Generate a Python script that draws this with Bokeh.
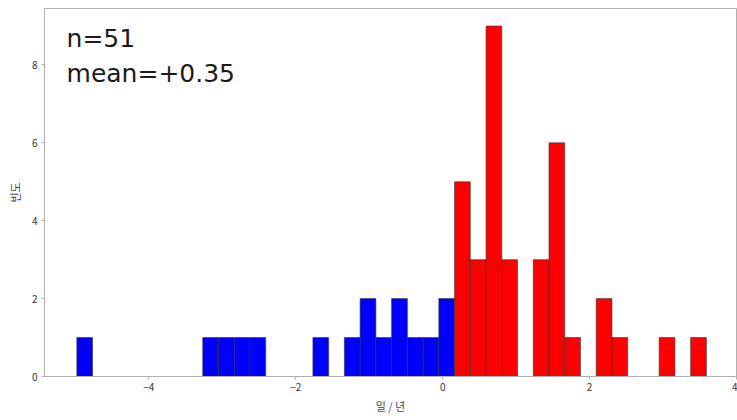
import numpy as np
from bokeh.plotting import figure
from bokeh.models import ColumnDataSource, Range1d, FixedTicker, Label
from bokeh.embed import file_html
from bokeh.resources import INLINE

# ---- data ----
bin_start = -4.98
bin_width = 0.21425
counts = [1, 0, 0, 0, 0, 0, 0, 0, 1, 1,
          1, 1, 0, 0, 0, 1, 0, 1, 2, 1,
          2, 1, 1, 2, 5, 3, 9, 3, 0, 3,
          6, 1, 0, 2, 1, 0, 0, 1, 0, 1]
x_ticks = [-4, -2, 0, 2, 4]
y_ticks = [0, 2, 4, 6, 8]
x_label = "일 / 년"
y_label = "빈도"
n_text = "n=51"
mean_text = "mean=+0.35"

lefts = [bin_start + i * bin_width for i in range(len(counts))]
rights = [l + bin_width for l in lefts]
colors = ["#0000ff" if l < 0 else "#ff0000" for l in lefts]
src = ColumnDataSource(dict(left=lefts, right=rights, top=counts,
                            bottom=[0] * len(counts), color=colors))

p = figure(width=737, height=420, output_backend="svg", toolbar_location=None,
           x_range=Range1d(-5.42, 4.0), y_range=Range1d(0, 9.45),
           min_border_left=44, min_border_bottom=44, min_border_top=8,
           min_border_right=1)
p.quad(left="left", right="right", top="top", bottom="bottom", source=src,
       fill_color="color", line_color="#333333", line_width=0.6)

p.xgrid.visible = False
p.ygrid.visible = False
p.outline_line_color = "#b0b0b0"
p.outline_line_width = 1

for ax in (p.xaxis, p.yaxis):
    ax.axis_line_color = "#b0b0b0"
    ax.major_tick_line_color = "#b0b0b0"
    ax.minor_tick_line_color = None
    ax.major_tick_out = 3
    ax.major_tick_in = 0
    ax.major_label_text_font = "Noto Sans CJK KR"
    ax.major_label_text_font_size = "10px"
    ax.major_label_text_color = "#333333"
    ax.axis_label_text_font = "Noto Sans CJK KR"
    ax.axis_label_text_font_size = "11px"
    ax.axis_label_text_font_style = "normal"
    ax.axis_label_text_color = "#444444"
    ax.axis_label_standoff = 4

p.xaxis.ticker = FixedTicker(ticks=x_ticks)
p.yaxis.ticker = FixedTicker(ticks=y_ticks)
p.xaxis.axis_label = x_label
p.yaxis.axis_label = y_label
p.xaxis.major_label_standoff = 3
p.yaxis.major_label_standoff = 4
p.yaxis.axis_label_standoff = 6

p.add_layout(Label(x=-5.12, y=8.69, text=n_text, text_font="DejaVu Sans",
                   text_font_size="25px", text_color="#1a1a1a",
                   text_baseline="alphabetic"))
p.add_layout(Label(x=-5.12, y=7.79, text=mean_text, text_font="DejaVu Sans",
                   text_font_size="25px", text_color="#1a1a1a",
                   text_baseline="alphabetic"))

open("out.html", "w").write(file_html(p, INLINE))
